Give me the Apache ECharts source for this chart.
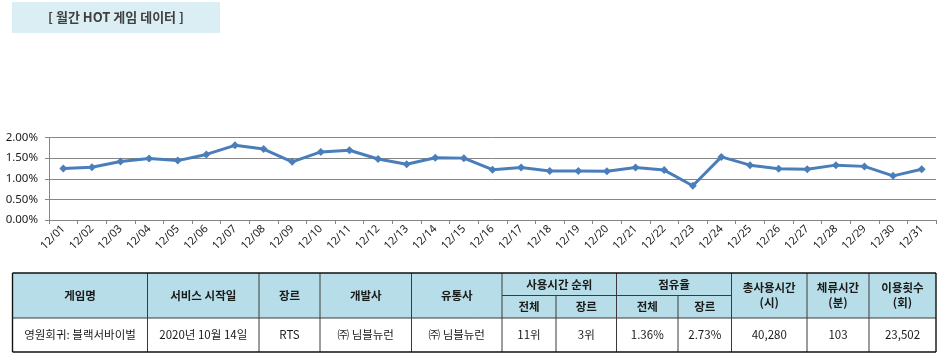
<!DOCTYPE html>
<html>
<head>
<meta charset="utf-8">
<script src="https://cdn.jsdelivr.net/npm/echarts@6/dist/echarts.min.js"></script>
<style>
html,body{margin:0;padding:0;background:#fff;}
#c{width:943px;height:356px;}
</style>
</head>
<body>
<div id="c"></div>
<script>
// ---- data ----
const titleText = '[ 월간 HOT 게임 데이터 ]';
const days = ['12/01','12/02','12/03','12/04','12/05','12/06','12/07','12/08','12/09','12/10','12/11','12/12','12/13','12/14','12/15','12/16','12/17','12/18','12/19','12/20','12/21','12/22','12/23','12/24','12/25','12/26','12/27','12/28','12/29','12/30','12/31'];
const shareValues = [1.25,1.28,1.42,1.49,1.44,1.59,1.81,1.72,1.41,1.65,1.69,1.48,1.35,1.51,1.50,1.22,1.27,1.19,1.185,1.18,1.27,1.21,0.83,1.53,1.33,1.24,1.23,1.33,1.30,1.07,1.23];
const yTicks = ['0.00%','0.50%','1.00%','1.50%','2.00%'];

const headTop = ['게임명','서비스 시작일','장르','개발사','유통사','사용시간 순위','점유율','총사용시간\n(시)','체류시간\n(분)','이용횟수\n(회)'];
const headSub = ['전체','장르','전체','장르'];
const rowValues = ['영원회귀: 블랙서바이벌','2020년 10월 14일','RTS','㈜ 님블뉴런','㈜ 님블뉴런','11위','3위','1.36%','2.73%','40,280','103','23,502'];

// ---- layout ----
const colX = [12.5,147.5,259,320,411.5,502,556,616.5,678,731.5,807,869,936];
const rowY = [273,295.5,318,352];
const headSpan = [1,1,1,1,1,2,2,1,1,1]; // column span of each top header
const subRowCols = [5,6,7,8];           // columns that have sub headers
const KR = '"Noto Sans CJK KR", "Noto Sans", sans-serif';

const graphic = [];
// title box
graphic.push({type:'rect', shape:{x:12,y:2,width:208,height:31}, style:{fill:'#daeef3'}, silent:true});
graphic.push({type:'text', x:116, y:17.5, style:{text:titleText, fill:'#404040', font:'bold 13px '+KR, align:'center', verticalAlign:'middle'}});

// table header background
graphic.push({type:'rect', shape:{x:colX[0],y:rowY[0],width:colX[12]-colX[0],height:rowY[2]-rowY[0]}, style:{fill:'#b7dee8'}, silent:true});

const lineStyle = {stroke:'#3a3a3a', lineWidth:1};
function hline(x1,x2,y,st){graphic.push({type:'line', shape:{x1:x1,y1:y,x2:x2,y2:y}, style:st||lineStyle, silent:true});}
function vline(x,y1,y2,st){graphic.push({type:'line', shape:{x1:x,y1:y1,x2:x,y2:y2}, style:st||lineStyle, silent:true});}
function txt(cx,cy,s,bold){graphic.push({type:'text', x:cx, y:cy, style:{text:s, fill:'#1a1a1a', font:(bold?'bold ':'')+'11.5px '+KR, align:'center', verticalAlign:'middle', lineHeight:15}});}

// top header cells
let ci = 0;
headTop.forEach((h,i)=>{
  const span = headSpan[i];
  const x1 = colX[ci], x2 = colX[ci+span];
  if (span === 1) txt((x1+x2)/2,(rowY[0]+rowY[2])/2,h,true);
  else txt((x1+x2)/2,(rowY[0]+rowY[1])/2,h,true);
  ci += span;
});
// sub headers
subRowCols.forEach((c,i)=>{ txt((colX[c]+colX[c+1])/2,(rowY[1]+rowY[2])/2,headSub[i],true); });
// data row
rowValues.forEach((v,i)=>{ txt((colX[i]+colX[i+1])/2,(rowY[2]+rowY[3])/2,v,false); });

// borders
hline(colX[5],colX[9],rowY[1]);
hline(colX[0],colX[12],rowY[2]);
for (let i=1;i<12;i++){
  if (i===6 || i===8) vline(colX[i],rowY[1],rowY[3]);
  else vline(colX[i],rowY[0],rowY[3]);
}
const outer = {stroke:'#111', lineWidth:1.4};
hline(colX[0],colX[12],rowY[0],outer);
hline(colX[0],colX[12],rowY[3],outer);
vline(colX[0],rowY[0],rowY[3],outer);
vline(colX[12],rowY[0],rowY[3],outer);

const chart = echarts.init(document.getElementById('c'), null, {renderer:'canvas'});
chart.setOption({
  animation:false,
  backgroundColor:'#fff',
  grid:{left:49,right:7,top:137.5,bottom:136,containLabel:false},
  xAxis:{
    type:'category', data:days, boundaryGap:true,
    axisLine:{lineStyle:{color:'#868686',width:1}},
    axisTick:{show:true,alignWithLabel:false,length:4,lineStyle:{color:'#868686'}},
    axisLabel:{rotate:45,interval:0,margin:7,fontSize:11,fontFamily:'"Noto Sans", sans-serif',color:'#1a1a1a'}
  },
  yAxis:{
    type:'value', min:0, max:2, interval:0.5,
    axisLine:{show:true,lineStyle:{color:'#868686'}},
    axisTick:{show:true,length:4,lineStyle:{color:'#868686'}},
    splitLine:{show:true,lineStyle:{color:'#868686',width:1}},
    axisLabel:{margin:11,fontSize:11.5,fontFamily:'"Noto Sans", sans-serif',color:'#1a1a1a',
      formatter:(v)=>yTicks[Math.round(v/0.5)]}
  },
  series:[{
    type:'line', data:shareValues,
    lineStyle:{color:'#4a7ebb',width:3},
    itemStyle:{color:'#4a7ebb'},
    symbol:'diamond', symbolSize:8, showSymbol:true
  }],
  graphic:graphic
});
</script>
</body>
</html>
